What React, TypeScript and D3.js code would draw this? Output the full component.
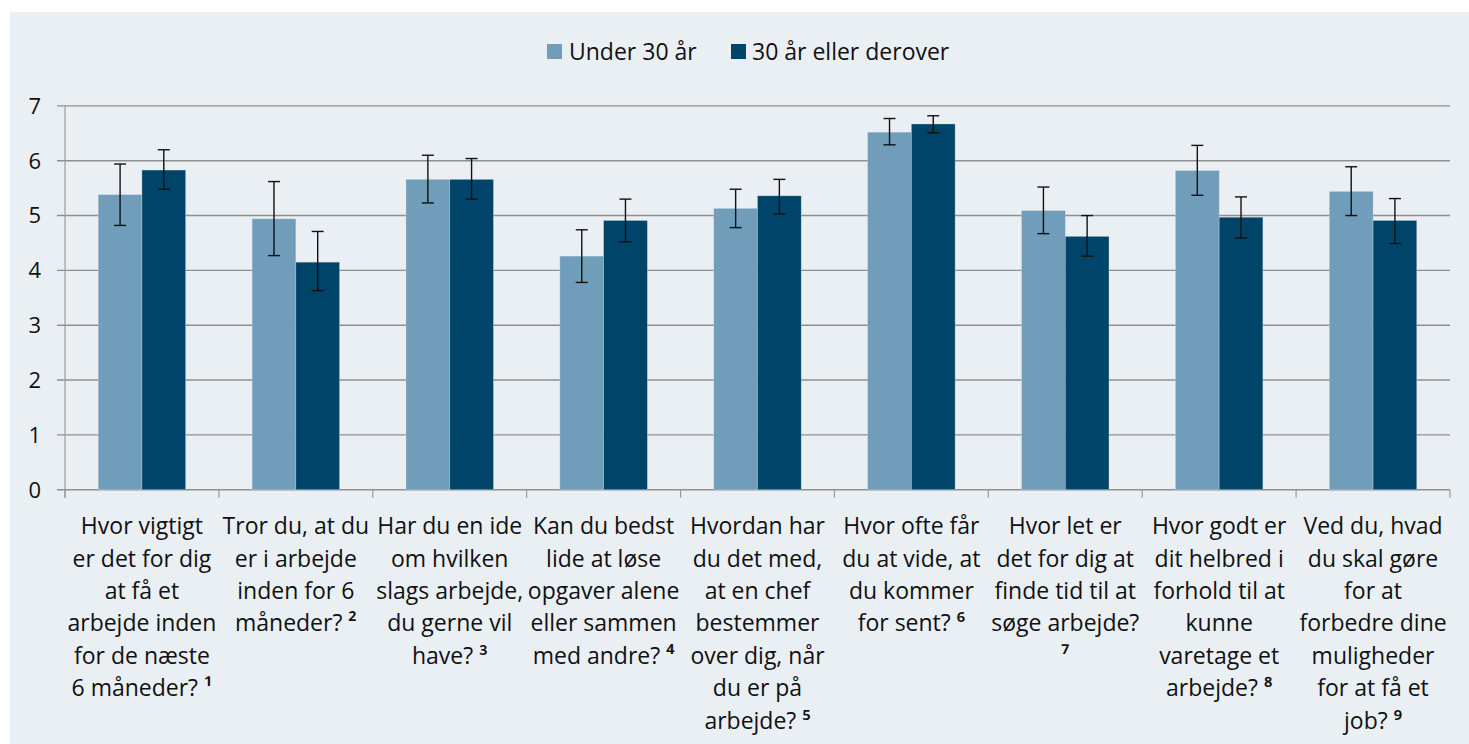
import React from "react";
import * as d3 from "d3";

const categories: string[][] = [
  ["Hvor vigtigt", "er det for dig", "at få et", "arbejde inden", "for de næste", "6 måneder? ¹"],
  ["Tror du, at du", "er i arbejde", "inden for 6", "måneder? ²"],
  ["Har du en ide", "om hvilken", "slags arbejde,", "du gerne vil", "have? ³"],
  ["Kan du bedst", "lide at løse", "opgaver alene", "eller sammen", "med andre? ⁴"],
  ["Hvordan har", "du det med,", "at en chef", "bestemmer", "over dig, når", "du er på", "arbejde? ⁵"],
  ["Hvor ofte får", "du at vide, at", "du kommer", "for sent? ⁶"],
  ["Hvor let er", "det for dig at", "finde tid til at", "søge arbejde?", "⁷"],
  ["Hvor godt er", "dit helbred i", "forhold til at", "kunne", "varetage et", "arbejde? ⁸"],
  ["Ved du, hvad", "du skal gøre", "for at", "forbedre dine", "muligheder", "for at få et", "job? ⁹"],
];

const seriesNames = ["Under 30 år", "30 år eller derover"];

const under30 = [5.38, 4.94, 5.66, 4.26, 5.13, 6.52, 5.09, 5.82, 5.44];
const under30Low = [4.82, 4.27, 5.23, 3.78, 4.78, 6.29, 4.67, 5.37, 5.0];
const under30High = [5.94, 5.62, 6.1, 4.74, 5.48, 6.77, 5.52, 6.28, 5.89];

const over30 = [5.83, 4.15, 5.66, 4.91, 5.36, 6.67, 4.62, 4.97, 4.91];
const over30Low = [5.48, 3.63, 5.3, 4.52, 5.03, 6.51, 4.26, 4.59, 4.49];
const over30High = [6.2, 4.71, 6.04, 5.3, 5.66, 6.82, 5.0, 5.34, 5.31];

const yTicks = [0, 1, 2, 3, 4, 5, 6, 7];

const colors = ["#6f9dba", "#00446a"];
const FONT = "'Open Sans', 'Noto Sans', sans-serif";

const supRe = /([¹²³⁴⁵⁶⁷⁸⁹])$/;

export default function App() {
  const W = 1469;
  const H = 744;
  const left = 65;
  const right = 1450;
  const top = 105.9;
  const bottom = 489.7;

  const idx = categories.map((_, i) => String(i));
  const x0 = d3.scaleBand<string>().domain(idx).range([left, right]).paddingInner(0.432).paddingOuter(0.216);
  const bandW = (right - left) / categories.length;
  const x1 = d3.scaleBand<string>().domain(["0", "1"]).range([0, x0.bandwidth()]);
  const y = d3.scaleLinear().domain([0, 7]).range([bottom, top]);

  const series = [
    { vals: under30, lo: under30Low, hi: under30High },
    { vals: over30, lo: over30Low, hi: over30High },
  ];

  return (
    <svg width={W} height={H} style={{ position: "absolute", left: 0, top: 0 }} fontFamily={FONT}>
      <rect x={10} y={12} width={W - 10} height={H - 12} fill="#eaeff4" />
      {yTicks.map((t) => (
        <g key={t}>
          <line x1={left - 8} x2={right} y1={y(t)} y2={y(t)} stroke="#8f8f8f" strokeWidth={1.4} />
          <text x={41} y={y(t)} dy="0.36em" textAnchor="end" fontSize={22} fill="#111">
            {t}
          </text>
        </g>
      ))}
      <line x1={left} x2={left} y1={top} y2={bottom + 8} stroke="#9a9a9a" strokeWidth={1.2} />
      {d3.range(categories.length + 1).map((i) => (
        <line key={i} x1={left + i * bandW} x2={left + i * bandW} y1={bottom} y2={bottom + 8} stroke="#9a9a9a" strokeWidth={1.2} />
      ))}
      {series.map((s, si) =>
        s.vals.map((v, i) => {
          const bx = (x0(String(i)) as number) + (x1(String(si)) as number);
          const bw = x1.bandwidth();
          const cx = bx + bw / 2;
          return (
            <g key={`${si}-${i}`}>
              <rect x={bx} y={y(v)} width={bw} height={y(0) - y(v)} fill={colors[si]} stroke="#c9d8e3" strokeWidth={0.6} strokeOpacity={0.6} />
              <line x1={cx} x2={cx} y1={y(s.hi[i])} y2={y(s.lo[i])} stroke="#111" strokeWidth={1.4} />
              <line x1={cx - 6} x2={cx + 6} y1={y(s.hi[i])} y2={y(s.hi[i])} stroke="#111" strokeWidth={1.4} />
              <line x1={cx - 6} x2={cx + 6} y1={y(s.lo[i])} y2={y(s.lo[i])} stroke="#111" strokeWidth={1.4} />
            </g>
          );
        })
      )}
      {categories.map((lines, i) => {
        const cx = left + bandW * (i + 0.5);
        return (
          <text key={i} textAnchor="middle" fontSize={23} fill="#111">
            {lines.map((l, j) => {
              const m = l.match(supRe);
              const main = m ? l.slice(0, l.length - 1) : l;
              return (
                <tspan key={j} x={cx} y={526 + j * 32.4} dy="0.36em">
                  {main}
                  {m ? <tspan fontWeight={600} fontSize={23}>{m[1]}</tspan> : null}
                </tspan>
              );
            })}
          </text>
        );
      })}
      <g>
        <rect x={547} y={44} width={15} height={15} fill={colors[0]} />
        <text x={569} y={52} dy="0.36em" fontSize={23} fill="#111">
          {seriesNames[0]}
        </text>
        <rect x={731} y={44} width={15} height={15} fill={colors[1]} />
        <text x={752} y={52} dy="0.36em" fontSize={23} fill="#111">
          {seriesNames[1]}
        </text>
      </g>
    </svg>
  );
}
